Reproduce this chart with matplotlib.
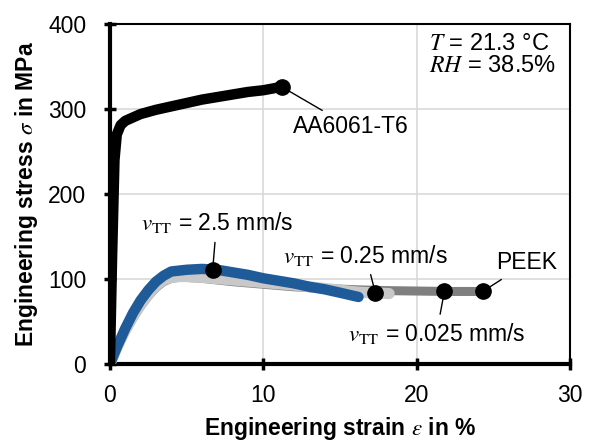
import numpy as np
import matplotlib
matplotlib.use('Agg')
import matplotlib.pyplot as plt

plt.rcParams['font.family'] = ['Liberation Sans', 'DejaVu Sans']
plt.rcParams['mathtext.fontset'] = 'stix'

# AA6061-T6
strain_al = [0, 0.15, 0.3, 0.45, 0.7, 1.0, 1.5, 2, 3, 4, 5, 6, 7, 8, 9, 10, 11.2]
stress_al = [0, 130, 240, 270, 281, 286, 290, 294, 299, 303, 307, 311, 314, 317, 320, 322, 326]

# PEEK, v_TT = 0.025 mm/s
strain_slow = [0, 0.5, 1, 1.5, 2, 2.5, 3, 3.5, 4, 4.5, 5, 6, 8, 10, 12, 14, 16, 18, 20, 22, 24.3]
stress_slow = [0, 20, 38, 54, 68, 80, 90, 97, 101, 102, 102, 101, 97, 94, 91, 89, 87.5, 86.5, 86, 85.5, 85.5]

# PEEK, v_TT = 0.25 mm/s
strain_mid = [0, 0.5, 1, 1.5, 2, 2.5, 3, 3.5, 4, 4.5, 5, 6, 8, 10, 12, 14, 16, 17, 18.2]
stress_mid = [0, 21, 40, 56, 70, 82, 92, 99, 102, 103, 103, 102, 99, 96, 93, 89, 85, 84, 83]

# PEEK, v_TT = 2.5 mm/s
strain_fast = [0, 0.5, 1, 1.5, 2, 2.5, 3, 3.5, 4, 5, 6, 7, 8, 9, 10, 11, 12, 13, 14, 15, 16.2]
stress_fast = [0, 22, 42, 60, 75, 87, 97, 104, 109, 111, 112, 111, 108, 105, 101, 98, 95, 91, 88, 84, 79]

# label marker positions (strain in %)
mark_al = 11.2
mark_fast = 6.7
mark_mid = 17.3
mark_slow = 21.8
mark_peek = 24.3

fig = plt.figure(figsize=(5.94, 4.42), dpi=100)
ax = fig.add_axes([0.185, 0.176, 0.775, 0.77])

ax.plot(strain_slow, stress_slow, color='#7f7f7f', lw=6.5, solid_capstyle='round', zorder=3)
ax.plot(strain_mid, stress_mid, color='#c8c8c8', lw=8, solid_capstyle='round', zorder=4)
ax.plot(strain_fast, stress_fast, color='#1f5a99', lw=7.5, solid_capstyle='round', zorder=5)
ax.plot(strain_al, stress_al, color='black', lw=7.5, solid_capstyle='round', zorder=5)

def label(x, xs, ys, text, tx, ty, ha='left'):
    y = np.interp(x, xs, ys)
    ax.plot([x], [y], 'o', color='black', ms=11, zorder=7)
    ax.annotate(text, xy=(x, y), xytext=(tx, ty), fontsize=16.5, ha=ha, va='center',
                arrowprops=dict(arrowstyle='-', color='black', lw=1, shrinkA=3, shrinkB=0),
                zorder=8)

label(mark_al, strain_al, stress_al, 'AA6061-T6', 11.9, 279)
label(mark_fast, strain_fast, stress_fast, r'$v_{\mathrm{TT}}$ = 2.5 mm/s', 2.0, 166)
label(mark_mid, strain_mid, stress_mid, r'$v_{\mathrm{TT}}$ = 0.25 mm/s', 11.3, 128)
label(mark_slow, strain_slow, stress_slow, r'$v_{\mathrm{TT}}$ = 0.025 mm/s', 15.5, 36)
label(mark_peek, strain_slow, stress_slow, 'PEEK', 25.2, 119)

ax.text(20.8, 376, r'$T$ = 21.3 °C', fontsize=17, va='center')
ax.text(20.8, 350, r'$RH$ = 38.5%', fontsize=17, va='center')

ax.set_xlim(0, 30)
ax.set_ylim(0, 400)
ax.set_xticks([0, 10, 20, 30])
ax.set_yticks([0, 100, 200, 300, 400])
ax.grid(True, color='#d9d9d9', lw=1.2)
ax.set_axisbelow(True)

for side in ['left', 'bottom']:
    ax.spines[side].set_linewidth(3)
for side in ['top', 'right']:
    ax.spines[side].set_linewidth(1.5)
ax.tick_params(direction='inout', length=8, width=2.5, labelsize=16.5)
ax.tick_params(axis='y', pad=13)
ax.tick_params(axis='x', pad=10)

ax.set_xlabel(r'Engineering strain $\varepsilon$ in %', fontsize=16.5, fontweight='bold', labelpad=6)
ax.set_ylabel(r'Engineering stress $\sigma$ in MPa', fontsize=16.5, fontweight='bold', labelpad=6)

fig.savefig('out.png', dpi=100)
